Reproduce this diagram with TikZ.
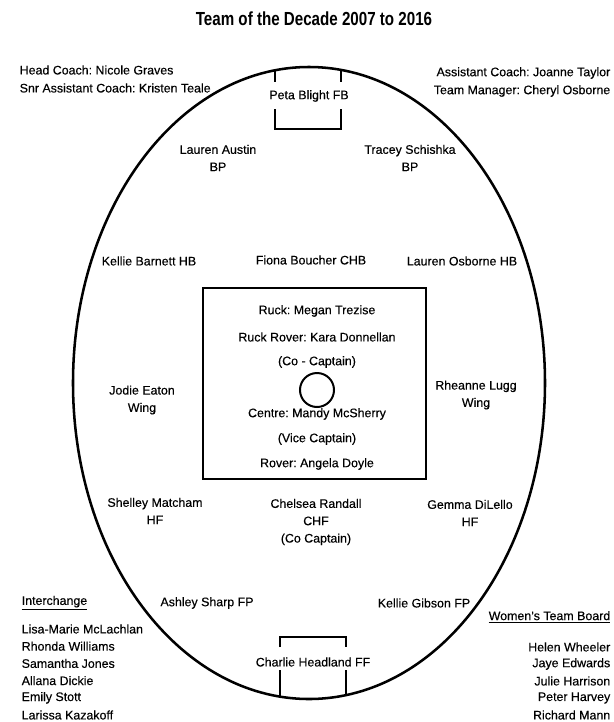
\documentclass[tikz,border=0pt]{standalone}
\usepackage{fontspec}
\setmainfont{Liberation Sans}[FakeBold=0.3]
\newfontfamily\titlefont{Liberation Sans}[FakeStretch=0.8]
\frenchspacing

\tikzset{every path/.style={line width=1.1pt}}
\tikzset{
  player/.style={inner sep=0pt, align=center, font=\fontsize{9.3}{13}\selectfont},
  staffL/.style={player, anchor=west},
  staffR/.style={player, anchor=east},
  heading/.style={inner sep=0pt, font=\titlefont\bfseries\fontsize{14.2}{16}\selectfont}
}

\begin{document}
\begin{tikzpicture}[x=0.75pt,y=-0.75pt]
\useasboundingbox (0,0) rectangle (614,722);

\node[heading] (title) at (314,19) {Team of the Decade 2007 to 2016};

\node[staffL] (head) at (19,70) {Head Coach: Nicole Graves};
\node[staffL] (snr) at (19,88) {Snr Assistant Coach: Kristen Teale};
\node[staffR] (asst) at (611,73) {Assistant Coach: Joanne Taylor};
\node[staffR] (mgr) at (611,91) {Team Manager: Cheryl Osborne};

% ground
\draw[line width=1.9pt] (309,383) ellipse[x radius=177pt, y radius=237pt];
\draw[line width=2.2pt] (203,288) rectangle (426,479);
\draw[line width=1.5pt] (317,390) circle[radius=12.75pt];

% goals
\draw (275,70.3) -- (275,82);
\draw (341,69.9) -- (341,82);
\draw (275,109) -- (275,129) -- (341,129) -- (341,109);
\draw (280,647) -- (280,637) -- (346,637) -- (346,647);
\draw (280,670) -- (280,696.6);
\draw (346,670) -- (346,695.1);

\node[player] (fb) at (309,96) {Peta Blight FB};
\node[player] (bpl) at (218,158) {Lauren Austin\\BP};
\node[player] (bpr) at (410,158) {Tracey Schishka\\BP};
\node[player] (hbl) at (149,261) {Kellie Barnett HB};
\node[player] (chb) at (311,260) {Fiona Boucher CHB};
\node[player] (hbr) at (462,261) {Lauren Osborne HB};

\node[player] (ruck) at (317,311) {Ruck: Megan Trezise};
\node[player] (rrover) at (317,337) {Ruck Rover: Kara Donnellan};
\node[player] (cocap) at (317,362) {(Co - Captain)};
\node[player] (centre) at (317,414) {Centre: Mandy McSherry};
\node[player] (vicecap) at (317,439) {(Vice Captain)};
\node[player] (rover) at (317,464) {Rover: Angela Doyle};

\node[player] (wingl) at (142,400) {Jodie Eaton\\Wing};
\node[player] (wingr) at (476,395) {Rheanne Lugg\\Wing};

\node[player] (hfl) at (155,511) {Shelley Matcham\\HF};
\node[player] (chf) at (316,522) {Chelsea Randall\\CHF\\(Co Captain)};
\node[player] (hfr) at (470,513) {Gemma DiLello\\HF};

\node[player] (fpl) at (207,603) {Ashley Sharp FP};
\node[player] (fpr) at (424,603) {Kellie Gibson FP};
\node[player] (ff) at (313,662) {Charlie Headland FF};

% interchange
\node[staffL] (inter) at (21,603) {\underline{Interchange}};
\node[staffL] (i1) at (21,629) {Lisa-Marie McLachlan};
\node[staffL] (i2) at (21,646.2) {Rhonda Williams};
\node[staffL] (i3) at (21,663.4) {Samantha Jones};
\node[staffL] (i4) at (21,680.6) {Allana Dickie};
\node[staffL] (i5) at (21,697.8) {Emily Stott};
\node[staffL] (i6) at (21,715) {Larissa Kazakoff};

% board
\node[staffR] (board) at (611,617) {\underline{Women's Team Board}};
\node[staffR] (b1) at (611,647) {Helen Wheeler};
\node[staffR] (b2) at (611,664) {Jaye Edwards};
\node[staffR] (b3) at (611,681) {Julie Harrison};
\node[staffR] (b4) at (611,698) {Peter Harvey};
\node[staffR] (b5) at (611,715) {Richard Mann};

\end{tikzpicture}
\end{document}
